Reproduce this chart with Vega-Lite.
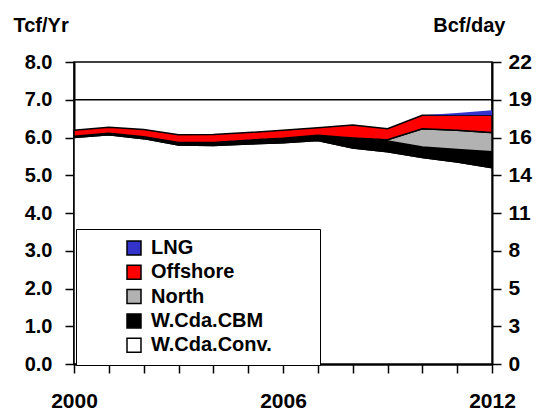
{
  "$schema": "https://vega.github.io/schema/vega-lite/v6.json",
  "width": 418,
  "height": 302,
  "autosize": {"type": "none"},
  "padding": {"left": 74, "top": 62, "right": 44, "bottom": 49},
  "background": "white",
  "config": {
    "font": "Liberation Sans",
    "view": {"stroke": "black", "strokeWidth": 1.5},
    "axis": {
      "labelFont": "Liberation Sans",
      "labelFontWeight": "bold",
      "labelColor": "black",
      "domainColor": "black",
      "tickColor": "black",
      "titleFont": "Liberation Sans",
      "titleFontWeight": "bold",
      "titleColor": "black",
      "grid": false
    }
  },
  "data": {
    "values": [
      {"year": 2000, "series": "W.Cda.Conv.", "ord": 1, "value": 6.00},
      {"year": 2000, "series": "W.Cda.CBM", "ord": 2, "value": 0.03},
      {"year": 2000, "series": "North", "ord": 3, "value": 0},
      {"year": 2000, "series": "Offshore", "ord": 4, "value": 0.16},
      {"year": 2000, "series": "LNG", "ord": 5, "value": 0},
      {"year": 2001, "series": "W.Cda.Conv.", "ord": 1, "value": 6.07},
      {"year": 2001, "series": "W.Cda.CBM", "ord": 2, "value": 0.04},
      {"year": 2001, "series": "North", "ord": 3, "value": 0},
      {"year": 2001, "series": "Offshore", "ord": 4, "value": 0.16},
      {"year": 2001, "series": "LNG", "ord": 5, "value": 0},
      {"year": 2002, "series": "W.Cda.Conv.", "ord": 1, "value": 5.97},
      {"year": 2002, "series": "W.Cda.CBM", "ord": 2, "value": 0.05},
      {"year": 2002, "series": "North", "ord": 3, "value": 0},
      {"year": 2002, "series": "Offshore", "ord": 4, "value": 0.19},
      {"year": 2002, "series": "LNG", "ord": 5, "value": 0},
      {"year": 2003, "series": "W.Cda.Conv.", "ord": 1, "value": 5.80},
      {"year": 2003, "series": "W.Cda.CBM", "ord": 2, "value": 0.07},
      {"year": 2003, "series": "North", "ord": 3, "value": 0},
      {"year": 2003, "series": "Offshore", "ord": 4, "value": 0.20},
      {"year": 2003, "series": "LNG", "ord": 5, "value": 0},
      {"year": 2004, "series": "W.Cda.Conv.", "ord": 1, "value": 5.79},
      {"year": 2004, "series": "W.Cda.CBM", "ord": 2, "value": 0.08},
      {"year": 2004, "series": "North", "ord": 3, "value": 0},
      {"year": 2004, "series": "Offshore", "ord": 4, "value": 0.21},
      {"year": 2004, "series": "LNG", "ord": 5, "value": 0},
      {"year": 2005, "series": "W.Cda.Conv.", "ord": 1, "value": 5.83},
      {"year": 2005, "series": "W.Cda.CBM", "ord": 2, "value": 0.10},
      {"year": 2005, "series": "North", "ord": 3, "value": 0},
      {"year": 2005, "series": "Offshore", "ord": 4, "value": 0.20},
      {"year": 2005, "series": "LNG", "ord": 5, "value": 0},
      {"year": 2006, "series": "W.Cda.Conv.", "ord": 1, "value": 5.86},
      {"year": 2006, "series": "W.Cda.CBM", "ord": 2, "value": 0.12},
      {"year": 2006, "series": "North", "ord": 3, "value": 0},
      {"year": 2006, "series": "Offshore", "ord": 4, "value": 0.21},
      {"year": 2006, "series": "LNG", "ord": 5, "value": 0},
      {"year": 2007, "series": "W.Cda.Conv.", "ord": 1, "value": 5.92},
      {"year": 2007, "series": "W.Cda.CBM", "ord": 2, "value": 0.14},
      {"year": 2007, "series": "North", "ord": 3, "value": 0},
      {"year": 2007, "series": "Offshore", "ord": 4, "value": 0.20},
      {"year": 2007, "series": "LNG", "ord": 5, "value": 0},
      {"year": 2008, "series": "W.Cda.Conv.", "ord": 1, "value": 5.72},
      {"year": 2008, "series": "W.Cda.CBM", "ord": 2, "value": 0.27},
      {"year": 2008, "series": "North", "ord": 3, "value": 0},
      {"year": 2008, "series": "Offshore", "ord": 4, "value": 0.34},
      {"year": 2008, "series": "LNG", "ord": 5, "value": 0},
      {"year": 2009, "series": "W.Cda.Conv.", "ord": 1, "value": 5.62},
      {"year": 2009, "series": "W.Cda.CBM", "ord": 2, "value": 0.29},
      {"year": 2009, "series": "North", "ord": 3, "value": 0.03},
      {"year": 2009, "series": "Offshore", "ord": 4, "value": 0.29},
      {"year": 2009, "series": "LNG", "ord": 5, "value": 0},
      {"year": 2010, "series": "W.Cda.Conv.", "ord": 1, "value": 5.47},
      {"year": 2010, "series": "W.Cda.CBM", "ord": 2, "value": 0.28},
      {"year": 2010, "series": "North", "ord": 3, "value": 0.48},
      {"year": 2010, "series": "Offshore", "ord": 4, "value": 0.36},
      {"year": 2010, "series": "LNG", "ord": 5, "value": 0},
      {"year": 2011, "series": "W.Cda.Conv.", "ord": 1, "value": 5.35},
      {"year": 2011, "series": "W.Cda.CBM", "ord": 2, "value": 0.33},
      {"year": 2011, "series": "North", "ord": 3, "value": 0.51},
      {"year": 2011, "series": "Offshore", "ord": 4, "value": 0.40},
      {"year": 2011, "series": "LNG", "ord": 5, "value": 0.06},
      {"year": 2012, "series": "W.Cda.Conv.", "ord": 1, "value": 5.20},
      {"year": 2012, "series": "W.Cda.CBM", "ord": 2, "value": 0.42},
      {"year": 2012, "series": "North", "ord": 3, "value": 0.51},
      {"year": 2012, "series": "Offshore", "ord": 4, "value": 0.46},
      {"year": 2012, "series": "LNG", "ord": 5, "value": 0.13}
    ]
  },
  "resolve": {"scale": {"y": "independent"}, "axis": {"y": "independent"}},
  "layer": [
    {
      "mark": {"type": "area", "stroke": "black", "strokeWidth": 1.5, "interpolate": "linear"},
      "encoding": {
        "x": {
          "field": "year",
          "type": "quantitative",
          "scale": {"domain": [2000, 2012], "nice": false, "zero": false},
          "axis": {
            "values": [2000, 2001, 2002, 2003, 2004, 2005, 2006, 2007, 2008, 2009, 2010, 2011, 2012],
            "format": "d",
            "labelExpr": "(datum.value - 2000) % 6 === 0 ? datum.label : ''",
            "tickSize": 9,
            "tickWidth": 1.5,
            "domainWidth": 2.5,
            "labelFontSize": 21,
            "labelPadding": 17,
            "labelFlush": false,
            "labelOverlap": false,
            "title": null
          }
        },
        "y": {
          "field": "value",
          "type": "quantitative",
          "stack": "zero",
          "scale": {"domain": [0, 8], "nice": false},
          "axis": {
            "orient": "left",
            "values": [0, 1, 2, 3, 4, 5, 6, 7, 8],
            "format": ".1f",
            "tickSize": 9,
            "tickWidth": 1.5,
            "domainWidth": 2,
            "labelFontSize": 20,
            "labelPadding": 13,
            "title": "Tcf/Yr",
            "titleAngle": 0,
            "titleAlign": "left",
            "titleBaseline": "alphabetic",
            "titleX": -61,
            "titleY": -31,
            "titleFontSize": 20
          }
        },
        "color": {
          "field": "series",
          "type": "nominal",
          "scale": {
            "domain": ["LNG", "Offshore", "North", "W.Cda.CBM", "W.Cda.Conv."],
            "range": ["#3333cc", "#ff0000", "#b2b2b2", "#000000", "#ffffff"]
          },
          "legend": {
            "orient": "none",
            "legendX": 2,
            "legendY": 167,
            "title": null,
            "direction": "vertical",
            "symbolType": "square",
            "symbolSize": 196,
            "symbolStrokeColor": "black",
            "symbolStrokeWidth": 1.5,
            "symbolOffset": 39,
            "labelFontSize": 20,
            "labelFont": "Liberation Sans",
            "labelFontWeight": "bold",
            "labelColor": "black",
            "labelOffset": 7,
            "labelLimit": 300,
            "labelExpr": "datum.label + '\u00a0\u00a0\u00a0\u00a0\u00a0\u00a0\u00a0\u200b'",
            "padding": 9,
            "rowPadding": 4.3,
            "strokeColor": "black",
            "fillColor": "white"
          }
        },
        "order": {"field": "ord", "type": "quantitative"},
        "strokeOpacity": {"condition": {"test": "datum.series === 'LNG'", "value": 0}, "value": 1}
      }
    },
    {
      "data": {"values": [{"gridline": 7}]},
      "mark": {"type": "rule", "color": "black", "strokeWidth": 1.5},
      "encoding": {
        "y": {
          "field": "gridline",
          "type": "quantitative",
          "scale": {"domain": [0, 8], "nice": false},
          "axis": {
            "orient": "right",
            "values": [0, 1, 2, 3, 4, 5, 6, 7, 8],
            "labelExpr": "format(datum.value * 1000 / 365, '.0f')",
            "tickSize": 9,
            "tickWidth": 1.5,
            "domainWidth": 2,
            "labelFontSize": 21,
            "labelPadding": 7,
            "title": "Bcf/day",
            "titleAngle": 0,
            "titleAlign": "right",
            "titleBaseline": "alphabetic",
            "titleX": 13,
            "titleY": -31,
            "titleFontSize": 20
          }
        }
      }
    }
  ]
}
